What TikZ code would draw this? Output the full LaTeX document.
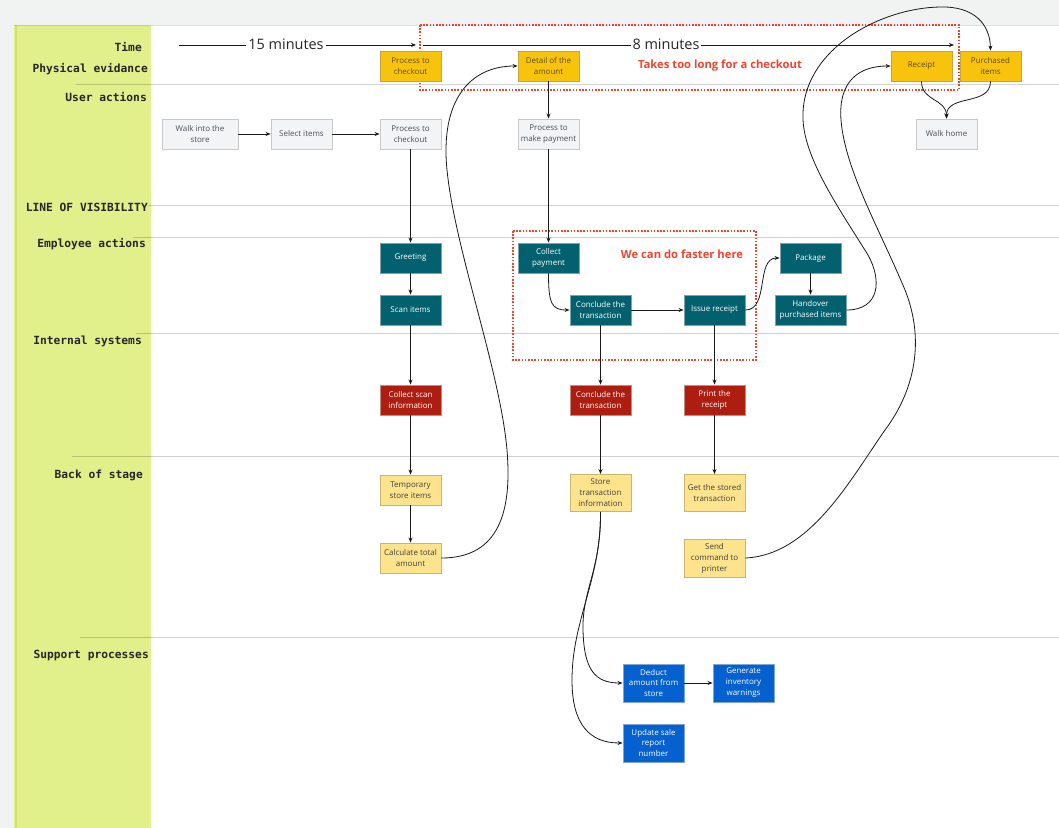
\documentclass[tikz,border=0pt]{standalone}
\usepackage{fontspec}
\setmainfont{Open Sans}
\newfontfamily\lanefont{DejaVu Sans Mono}
\usetikzlibrary{arrows.meta}
\definecolor{bgc}{HTML}{F1F2F2}
\definecolor{greenc}{HTML}{E2F08C}
\definecolor{greendark}{HTML}{D2DF7C}
\definecolor{goldf}{HTML}{F8C30C}
\definecolor{goldd}{HTML}{C9A43C}
\definecolor{goldt}{HTML}{5E4C14}
\definecolor{grayf}{HTML}{F3F4F6}
\definecolor{grayd}{HTML}{C8C8C8}
\definecolor{grayt}{HTML}{4A4E55}
\definecolor{tealf}{HTML}{02606F}
\definecolor{teald}{HTML}{7FA3AA}
\definecolor{redf}{HTML}{AD1E10}
\definecolor{redd}{HTML}{C98A80}
\definecolor{lyf}{HTML}{FDE38B}
\definecolor{lyd}{HTML}{C9B66E}
\definecolor{bluef}{HTML}{0461CF}
\definecolor{blued}{HTML}{7FA6D8}
\definecolor{warn}{HTML}{F0452D}
\begin{document}
\begin{tikzpicture}[x=1bp,y=-1bp,
  box/.style={draw, line width=0.9bp, minimum width=61bp, minimum height=30bp,
    align=center, inner sep=1bp, font=\fontsize{8}{11}\selectfont},
  grbox/.style={box, fill=grayf, draw=grayd, text=grayt},
  gobox/.style={box, fill=goldf, draw=goldd, text=goldt},
  tebox/.style={box, fill=tealf, draw=teald, text=white},
  rebox/.style={box, fill=redf, draw=redd, text=white},
  lybox/.style={box, fill=lyf, draw=lyd, text=black!75},
  blbox/.style={box, fill=bluef, draw=blued, text=white},
  lane/.style={anchor=east, font=\lanefont\bfseries\fontsize{11.3}{13}\selectfont, text=black!85, inner sep=0pt},
  sep/.style={draw=black, opacity=0.18, line width=1bp},
  conn/.style={draw=black!90, line width=0.8bp, -{Stealth[length=5bp,width=4bp]}},
  warnbox/.style={draw=warn, line width=1.6bp, dash pattern=on 1.6bp off 1.6bp},
  warntext/.style={text=warn, font=\bfseries\fontsize{11.3}{13}\selectfont},
  timetext/.style={fill=white, inner sep=2bp, font=\fontsize{14.5}{16}\selectfont, text=black!85}
]
\useasboundingbox (0,0) rectangle (1059,828);
% background and canvas
\fill[bgc] (0,0) rectangle (1059,828);
\fill[white] (14,25) rectangle (1059,828);
\fill[greenc] (14,25) rectangle (151,828);
\draw[greendark, line width=2bp] (16,25) -- (16,828);
\draw[draw=black, opacity=0.12, line width=1bp] (14,25) -- (1059,25);

% lane separators
\draw[sep] (76,84) -- (1059,84);
\draw[sep] (148,205) -- (1059,205);
\draw[sep] (133,237) -- (1059,237);
\draw[sep] (136,333) -- (1059,333);
\draw[sep] (72,456) -- (1059,456);
\draw[sep] (80,637) -- (1059,637);

% lane labels
\node[lane] (lTime) at (142,47) {Time};
\node[lane] (lPhys) at (148,69) {Physical evidance};
\node[lane] (lUser) at (147,97) {User actions};
\node[lane] (lVis) at (148,207) {LINE OF VISIBILITY};
\node[lane] (lEmp) at (146,244) {Employee actions};
\node[lane] (lInt) at (142,341) {Internal systems};
\node[lane] (lBack) at (143,475) {Back of stage};
\node[lane] (lSup) at (149,655) {Support processes};

% warning boxes
\draw[warnbox] (420,25) rectangle (959,90);
\draw[warnbox] (513,231) rectangle (756,360);
\node[warntext] (w1) at (720,66) {Takes too long for a checkout};
\node[warntext] (w2) at (682,254) {We can do faster here};

% time lines
\coordinate (t1s) at (179,45);
\coordinate (t1e) at (416,45);
\coordinate (t2s) at (423,45);
\coordinate (t2e) at (954,45);
\draw[conn] (t1s) -- (t1e);
\draw[conn] (t2s) -- (t2e);
\node[timetext] (m15) at (286,44) {15 minutes};
\node[timetext] (m8) at (666,44) {8 minutes};

% physical evidence
\node[gobox] (pCheck) at (410.5,66) {Process to\\checkout};
\node[gobox] (pDetail) at (548.5,66) {Detail of the\\amount};
\node[gobox] (pReceipt) at (921.5,66) {Receipt};
\node[gobox] (pItems) at (990.5,66) {Purchased\\items};

% user actions
\node[grbox, minimum width=76bp] (uWalk) at (200,134) {Walk into the\\store};
\node[grbox] (uSelect) at (301.5,134) {Select items};
\node[grbox] (uCheck) at (410.5,134) {Process to\\checkout};
\node[grbox] (uPay) at (548.5,134) {Process to\\make payment};
\node[grbox] (uHome) at (946.5,134) {Walk home};

% employee actions
\node[tebox] (eGreet) at (410.5,258) {Greeting};
\node[tebox] (eScan) at (410.5,310) {Scan items};
\node[tebox] (eCollect) at (548.5,258) {Collect\\payment};
\node[tebox] (eConclude) at (600.5,310) {Conclude the\\transaction};
\node[tebox] (eIssue) at (714.5,310) {Issue receipt};
\node[tebox] (ePackage) at (810.5,258) {Package};
\node[tebox, minimum width=71bp] (eHand) at (810.5,310) {Handover\\purchased items};

% internal systems
\node[rebox] (iScan) at (410.5,400) {Collect scan\\information};
\node[rebox] (iConclude) at (600.5,400) {Conclude the\\transaction};
\node[rebox] (iPrint) at (714.5,400) {Print the\\receipt};

% back of stage
\node[lybox] (bTemp) at (410.5,490) {Temporary\\store items};
\node[lybox] (bCalc) at (410.5,558) {Calculate total\\amount};
\node[lybox, minimum height=37bp] (bStore) at (600.5,493) {Store\\transaction\\information};
\node[lybox, minimum height=37bp] (bGet) at (714.5,493) {Get the stored\\transaction};
\node[lybox, minimum height=38bp] (bSend) at (714.5,558) {Send\\command to\\printer};

% support processes
\node[blbox, minimum height=38bp] (sDeduct) at (653.5,683) {Deduct\\amount from\\store};
\node[blbox, minimum height=38bp] (sGen) at (743.5,683) {Generate\\inventory\\warnings};
\node[blbox, minimum height=38bp] (sUpdate) at (653.5,743) {Update sale\\report\\number};

% straight connectors
\draw[conn] (uWalk) -- (uSelect);
\draw[conn] (uSelect) -- (uCheck);
\draw[conn] (uCheck) -- (eGreet);
\draw[conn] (eGreet) -- (eScan);
\draw[conn] (eScan) -- (iScan);
\draw[conn] (iScan) -- (bTemp);
\draw[conn] (bTemp) -- (bCalc);
\draw[conn] (pDetail) -- (uPay);
\draw[conn] (uPay) -- (eCollect);
\draw[conn] (eConclude) -- (eIssue);
\draw[conn] (ePackage) -- (eHand);
\draw[conn] (eConclude) -- (iConclude);
\draw[conn] (eIssue) -- (iPrint);
\draw[conn] (iConclude) -- (bStore);
\draw[conn] (iPrint) -- (bGet);
\draw[conn] (sDeduct) -- (sGen);

% curved connectors
\draw[conn] (eCollect.south) .. controls +(0,30) and +(-18,0) .. (eConclude.west);
\draw[conn] (eIssue.east) .. controls +(24,0) and +(-24,0) .. (ePackage.west);
\draw[conn] (pReceipt.south) .. controls +(0,20) and +(0,-20) .. (uHome.north);
\draw[conn] (pItems.south) .. controls +(0,25) and +(0,-25) .. (uHome.north);
\draw[conn] (bCalc.east) .. controls (500,558) and (512,510) .. (507,450)
  .. controls (500,370) and (455,250) .. (447,170)
  .. controls (440,100) and (470,66) .. (pDetail.west);
\draw[conn] (bSend.east) .. controls (810,555) and (850,480) .. (885,430)
  .. controls (915,390) and (925,340) .. (905,290)
  .. controls (880,230) and (845,170) .. (841,120)
  .. controls (838,80) and (860,66) .. (pReceipt.west);
\draw[conn] (eHand.east) .. controls (880,310) and (882,280) .. (868,255)
  .. controls (840,210) and (805,160) .. (803,120)
  .. controls (800,50) and (880,8) .. (940,7)
  .. controls (975,6) and (990,25) .. (pItems.north);
\draw[conn] (bStore.south) .. controls (601,570) and (582,590) .. (583,630)
  .. controls (584,670) and (595,683) .. (sDeduct.west);
\draw[conn] (bStore.south) .. controls (601,580) and (572,620) .. (572,680)
  .. controls (572,725) and (590,743) .. (sUpdate.west);
\end{tikzpicture}
\end{document}
